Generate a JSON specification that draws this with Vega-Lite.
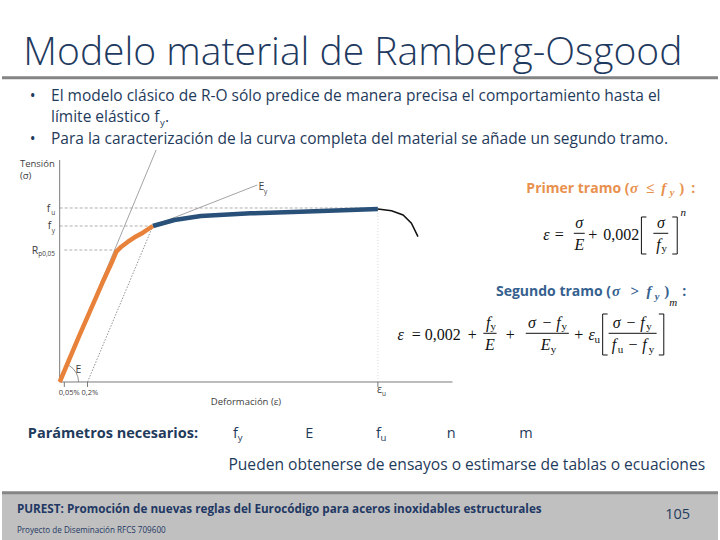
{
  "$schema": "https://vega.github.io/schema/vega-lite/v6.json",
  "width": 720,
  "height": 540,
  "autosize": {"type": "fit", "contains": "padding"},
  "padding": 0,
  "background": "white",
  "config": {"view": {"stroke": null}},
  "datasets": {
    "footer_bg": [{"x": -0.18125, "x2": 2.06875, "y": -0.908046, "y2": -0.6437}],
    "bands": [
      {"x": -0.18125, "x2": 2.06875, "y": 1.7483, "y2": 1.7483},
      {"x": -0.18125, "x2": 2.06875, "y": -0.6368, "y2": -0.6368}
    ],
    "axes": [
      {"x": 0, "x2": 0, "y": 0, "y2": 1.2759},
      {"x": 0, "x2": 1.2344, "y": 0, "y2": 0},
      {"x": 0.0146, "x2": 0.0146, "y": 0, "y2": -0.0287},
      {"x": 0.0875, "x2": 0.0875, "y": 0, "y2": -0.0287},
      {"x": 1.0, "x2": 1.0, "y": 0, "y2": -0.0287}
    ],
    "guides": [
      {"x": 0, "x2": 1.0, "y": 1.0, "y2": 1.0},
      {"x": 0, "x2": 0.2928, "y": 0.8966, "y2": 0.8966},
      {"x": 0.0146, "x2": 0.1781, "y": 0.7586, "y2": 0.7586}
    ],
    "eu_line": [{"x": 1.0, "x2": 1.0, "y": 0, "y2": 0.99}],
    "tangents": [
      {"x": 0, "x2": 0.3031, "y": 0, "y2": 1.3333},
      {"x": 0.2928, "x2": 0.6209, "y": 0.8966, "y2": 1.1322}
    ],
    "offset02": [{"x": 0.0875, "x2": 0.2928, "y": 0, "y2": 0.8966}],
    "arc": [
      {"x": 0.0594, "y": 0},
      {"x": 0.0573, "y": 0.0283},
      {"x": 0.0514, "y": 0.0546},
      {"x": 0.0420, "y": 0.0772},
      {"x": 0.0297, "y": 0.0945},
      {"x": 0.0232, "y": 0.1005}
    ],
    "tramo1": [
      {"x": 0, "y": 0},
      {"x": 0.0603, "y": 0.2603},
      {"x": 0.1334, "y": 0.5672},
      {"x": 0.1625, "y": 0.6822},
      {"x": 0.1781, "y": 0.7489},
      {"x": 0.1938, "y": 0.7776},
      {"x": 0.2147, "y": 0.8063},
      {"x": 0.2353, "y": 0.8316},
      {"x": 0.2616, "y": 0.8580},
      {"x": 0.2928, "y": 0.8966}
    ],
    "tramo2": [
      {"x": 0.2928, "y": 0.8966},
      {"x": 0.3603, "y": 0.9310},
      {"x": 0.4438, "y": 0.9540},
      {"x": 0.6, "y": 0.9695},
      {"x": 0.7563, "y": 0.9787},
      {"x": 0.9125, "y": 0.9885},
      {"x": 1.0, "y": 0.9943}
    ],
    "rotura": [
      {"x": 1.0, "y": 0.9943},
      {"x": 1.0428, "y": 0.9845},
      {"x": 1.0791, "y": 0.9598},
      {"x": 1.1053, "y": 0.9121},
      {"x": 1.1259, "y": 0.8351}
    ],
    "math_rules": [
      {"x": 1.6156, "x2": 1.65, "y": 0.8546, "y2": 0.8546},
      {"x": 1.8656, "x2": 1.9125, "y": 0.8546, "y2": 0.8546},
      {"x": 1.8281, "x2": 1.8281, "y": 0.9483, "y2": 0.7356},
      {"x": 1.8281, "x2": 1.8438, "y": 0.9483, "y2": 0.9483},
      {"x": 1.8281, "x2": 1.8438, "y": 0.7356, "y2": 0.7356},
      {"x": 1.9406, "x2": 1.9406, "y": 0.9483, "y2": 0.7356},
      {"x": 1.925, "x2": 1.9406, "y": 0.9483, "y2": 0.9483},
      {"x": 1.925, "x2": 1.9406, "y": 0.7356, "y2": 0.7356},
      {"x": 1.3313, "x2": 1.3728, "y": 0.2799, "y2": 0.2799},
      {"x": 1.4647, "x2": 1.6, "y": 0.2799, "y2": 0.2799},
      {"x": 1.725, "x2": 1.8759, "y": 0.2799, "y2": 0.2799},
      {"x": 1.7063, "x2": 1.7063, "y": 0.3908, "y2": 0.1552},
      {"x": 1.7063, "x2": 1.7219, "y": 0.3908, "y2": 0.3908},
      {"x": 1.7063, "x2": 1.7219, "y": 0.1552, "y2": 0.1552},
      {"x": 1.8984, "x2": 1.8984, "y": 0.3908, "y2": 0.1552},
      {"x": 1.8828, "x2": 1.8984, "y": 0.3908, "y2": 0.3908},
      {"x": 1.8828, "x2": 1.8984, "y": 0.1552, "y2": 0.1552}
    ],
    "t_title": [{"x": -0.1141, "y": 1.8218, "t": "Modelo material de Ramberg-Osgood"}],
    "t_body": [
      {"x": -0.09375, "y": 1.6149, "t": "•"},
      {"x": -0.0272, "y": 1.6149, "t": "El modelo clásico de R-O sólo predice de manera precisa el comportamiento hasta el"},
      {"x": -0.0272, "y": 1.4925, "t": "límite elástico f"},
      {"x": 0.3313, "y": 1.4925, "t": "."},
      {"x": -0.09375, "y": 1.3678, "t": "•"},
      {"x": -0.0272, "y": 1.3678, "t": "Para la caracterización de la curva completa del material se añade un segundo tramo."}
    ],
    "t_body_sub": [
      {"x": 0.3156, "y": 1.4741, "t": "y"},
      {"x": 0.5594, "y": -0.3391, "t": "y"},
      {"x": 1.0078, "y": -0.3391, "t": "u"}
    ],
    "t_params": [
      {"x": 0.5447, "y": -0.3201, "t": "f"},
      {"x": 0.7719, "y": -0.3201, "t": "E"},
      {"x": 0.9938, "y": -0.3201, "t": "f"},
      {"x": 1.2166, "y": -0.3201, "t": "n"},
      {"x": 1.4438, "y": -0.3201, "t": "m"},
      {"x": 1.9031, "y": -0.7874, "t": "105"}
    ],
    "t_pueden": [{"x": 0.5303, "y": -0.5057, "t": "Pueden obtenerse de ensayos o estimarse de tablas o ecuaciones"}],
    "t_bold": [{"x": -0.1, "y": -0.3201, "t": "Parámetros necesarios:"}],
    "t_footer1": [{"x": -0.1344, "y": -0.7529, "t": "PUREST: Promoción de nuevas reglas del Eurocódigo para aceros inoxidables estructurales"}],
    "t_footer2": [{"x": -0.1344, "y": -0.8678, "t": "Proyecto de Diseminación RFCS 709600"}],
    "t_chart": [
      {"x": -0.125, "y": 1.2356, "t": "Tensión"},
      {"x": -0.125, "y": 1.1649, "t": "(σ)"},
      {"x": 0.475, "y": -0.1322, "t": "Deformación (ε)"}
    ],
    "t_chart_sym": [
      {"x": -0.0406, "y": 0.9787, "t": "f"},
      {"x": -0.0375, "y": 0.8776, "t": "f"},
      {"x": -0.0875, "y": 0.7356, "t": "R"},
      {"x": 0.625, "y": 1.1034, "t": "E"},
      {"x": 0.05, "y": 0.0534, "t": "E"},
      {"x": 0.9969, "y": -0.0615, "t": "ε"}
    ],
    "t_chart_sub": [
      {"x": -0.0266, "y": 0.9598, "t": "u"},
      {"x": -0.025, "y": 0.8563, "t": "y"},
      {"x": -0.0675, "y": 0.7213, "t": "p0,05"},
      {"x": 0.6422, "y": 1.0805, "t": "y"},
      {"x": 1.0125, "y": -0.0805, "t": "u"}
    ],
    "t_ticks": [
      {"x": -0.0031, "y": -0.0747, "t": "0,05%"},
      {"x": 0.0688, "y": -0.0747, "t": "0,2%"}
    ],
    "t_head_sans": [
      {"x": 1.7906, "y": 1.0862, "t": "Primer tramo (", "g": "primer"},
      {"x": 1.9969, "y": 1.0862, "t": ":", "g": "primer"},
      {"x": 1.7328, "y": 0.4943, "t": "Segundo tramo (", "g": "segundo"},
      {"x": 1.9688, "y": 0.4943, "t": ":", "g": "segundo"}
    ],
    "t_head_it": [
      {"x": 1.7922, "y": 1.0862, "t": "σ", "g": "primer"},
      {"x": 1.8906, "y": 1.0862, "t": "f", "g": "primer"},
      {"x": 1.7353, "y": 0.4943, "t": "σ", "g": "segundo"},
      {"x": 1.8438, "y": 0.4943, "t": "f", "g": "segundo"}
    ],
    "t_head_rm": [
      {"x": 1.8422, "y": 1.0862, "t": "≤", "g": "primer"},
      {"x": 1.9469, "y": 1.0862, "t": ")", "g": "primer"},
      {"x": 1.7938, "y": 0.4943, "t": ">", "g": "segundo"},
      {"x": 1.9, "y": 0.4943, "t": ")", "g": "segundo"}
    ],
    "t_head_sub": [
      {"x": 1.9172, "y": 1.0661, "t": "y", "g": "primer"},
      {"x": 1.8703, "y": 0.4741, "t": "y", "g": "segundo"}
    ],
    "t_math_it": [
      {"x": 1.5297, "y": 0.8161, "t": "ε"},
      {"x": 1.6322, "y": 0.8851, "t": "σ"},
      {"x": 1.6328, "y": 0.7586, "t": "E"},
      {"x": 1.8897, "y": 0.8851, "t": "σ"},
      {"x": 1.8813, "y": 0.7586, "t": "f"},
      {"x": 1.0719, "y": 0.2414, "t": "ε"},
      {"x": 1.3469, "y": 0.3132, "t": "f"},
      {"x": 1.3516, "y": 0.1839, "t": "E"},
      {"x": 1.4844, "y": 0.3132, "t": "σ"},
      {"x": 1.5672, "y": 0.3132, "t": "f"},
      {"x": 1.5272, "y": 0.1839, "t": "E"},
      {"x": 1.6719, "y": 0.2414, "t": "ε"},
      {"x": 1.75, "y": 0.3132, "t": "σ"},
      {"x": 1.8313, "y": 0.3132, "t": "f"},
      {"x": 1.7422, "y": 0.1839, "t": "f"},
      {"x": 1.8375, "y": 0.1839, "t": "f"}
    ],
    "t_math_rm": [
      {"x": 1.5703, "y": 0.8161, "t": "="},
      {"x": 1.675, "y": 0.8161, "t": "+"},
      {"x": 1.7647, "y": 0.8161, "t": "0,002"},
      {"x": 1.1209, "y": 0.2414, "t": "="},
      {"x": 1.2041, "y": 0.2414, "t": "0,002"},
      {"x": 1.2969, "y": 0.2414, "t": "+"},
      {"x": 1.4156, "y": 0.2414, "t": "+"},
      {"x": 1.5313, "y": 0.3132, "t": "−"},
      {"x": 1.6313, "y": 0.2414, "t": "+"},
      {"x": 1.7953, "y": 0.3132, "t": "−"},
      {"x": 1.8016, "y": 0.1839, "t": "−"}
    ],
    "t_math_sub": [
      {"x": 1.9, "y": 0.7471, "t": "y"},
      {"x": 1.3625, "y": 0.2989, "t": "y"},
      {"x": 1.5859, "y": 0.2989, "t": "y"},
      {"x": 1.5516, "y": 0.1695, "t": "y"},
      {"x": 1.6891, "y": 0.2241, "t": "u"},
      {"x": 1.8516, "y": 0.2989, "t": "y"},
      {"x": 1.7625, "y": 0.1695, "t": "u"},
      {"x": 1.8594, "y": 0.1695, "t": "y"}
    ],
    "t_math_sup": [
      {"x": 1.9594, "y": 0.9540, "t": "n"},
      {"x": 1.9281, "y": 0.4368, "t": "m"}
    ]
  },
  "encoding": {
    "x": {"field": "x", "type": "quantitative", "scale": {"domain": [-0.18125, 2.06875], "nice": false, "zero": false}, "axis": null},
    "y": {"field": "y", "type": "quantitative", "scale": {"domain": [-0.908046, 2.195402], "nice": false, "zero": false}, "axis": null}
  },
  "layer": [
    {"data": {"name": "footer_bg"}, "mark": {"type": "rect", "color": "#c0c0c0"}, "encoding": {"x2": {"field": "x2"}, "y2": {"field": "y2"}}},
    {"data": {"name": "bands"}, "mark": {"type": "rule", "color": "#858585", "strokeWidth": 3}, "encoding": {"x2": {"field": "x2"}, "y2": {"field": "y2"}}},
    {"data": {"name": "eu_line"}, "mark": {"type": "rule", "color": "#d0d0d0", "strokeWidth": 0.8, "strokeDash": [1, 2]}, "encoding": {"x2": {"field": "x2"}, "y2": {"field": "y2"}}},
    {"data": {"name": "guides"}, "mark": {"type": "rule", "color": "#9a9a9a", "strokeWidth": 0.8, "strokeDash": [3, 2]}, "encoding": {"x2": {"field": "x2"}, "y2": {"field": "y2"}}},
    {"data": {"name": "tangents"}, "mark": {"type": "rule", "color": "#8c8c8c", "strokeWidth": 0.8}, "encoding": {"x2": {"field": "x2"}, "y2": {"field": "y2"}}},
    {"data": {"name": "offset02"}, "mark": {"type": "rule", "color": "#777777", "strokeWidth": 0.8, "strokeDash": [1.5, 1.5]}, "encoding": {"x2": {"field": "x2"}, "y2": {"field": "y2"}}},
    {"data": {"name": "axes"}, "mark": {"type": "rule", "color": "#7a7a7a", "strokeWidth": 1}, "encoding": {"x2": {"field": "x2"}, "y2": {"field": "y2"}}},
    {"data": {"name": "arc"}, "mark": {"type": "line", "color": "#777777", "strokeWidth": 0.8}, "encoding": {}},
    {"data": {"name": "tramo2"}, "mark": {"type": "line", "color": "#285078", "strokeWidth": 4.5, "strokeJoin": "round"}, "encoding": {}},
    {"data": {"name": "tramo1"}, "mark": {"type": "line", "color": "#e8823a", "strokeWidth": 4.5, "strokeJoin": "round"}, "encoding": {}},
    {"data": {"name": "rotura"}, "mark": {"type": "line", "color": "#111111", "strokeWidth": 1.5}, "encoding": {}},
    {"data": {"name": "math_rules"}, "mark": {"type": "rule", "color": "#111111", "strokeWidth": 1}, "encoding": {"x2": {"field": "x2"}, "y2": {"field": "y2"}}},
    {"data": {"name": "t_title"}, "mark": {"type": "text", "align": "left", "baseline": "alphabetic", "font": "Open Sans", "fontWeight": 300, "fontSize": 39, "color": "#1f3a5f"}, "encoding": {"text": {"field": "t"}}},
    {"data": {"name": "t_body"}, "mark": {"type": "text", "align": "left", "baseline": "alphabetic", "font": "Open Sans", "fontSize": 15.5, "color": "#1f3b5c"}, "encoding": {"text": {"field": "t"}}},
    {"data": {"name": "t_body_sub"}, "mark": {"type": "text", "align": "left", "baseline": "alphabetic", "font": "Open Sans", "fontSize": 9.5, "color": "#1f3b5c"}, "encoding": {"text": {"field": "t"}}},
    {"data": {"name": "t_params"}, "mark": {"type": "text", "align": "left", "baseline": "alphabetic", "font": "Open Sans", "fontSize": 14.5, "color": "#1f3b5c"}, "encoding": {"text": {"field": "t"}}},
    {"data": {"name": "t_pueden"}, "mark": {"type": "text", "align": "left", "baseline": "alphabetic", "font": "Open Sans", "fontSize": 15.6, "color": "#1f3b5c"}, "encoding": {"text": {"field": "t"}}},
    {"data": {"name": "t_bold"}, "mark": {"type": "text", "align": "left", "baseline": "alphabetic", "font": "Open Sans", "fontWeight": "bold", "fontSize": 14.5, "color": "#1f3b5c"}, "encoding": {"text": {"field": "t"}}},
    {"data": {"name": "t_footer1"}, "mark": {"type": "text", "align": "left", "baseline": "alphabetic", "font": "Open Sans", "fontWeight": "bold", "fontSize": 11.7, "color": "#1f3864"}, "encoding": {"text": {"field": "t"}}},
    {"data": {"name": "t_footer2"}, "mark": {"type": "text", "align": "left", "baseline": "alphabetic", "font": "Open Sans", "fontSize": 8.1, "color": "#1f3864"}, "encoding": {"text": {"field": "t"}}},
    {"data": {"name": "t_chart"}, "mark": {"type": "text", "align": "left", "baseline": "alphabetic", "font": "Open Sans", "fontSize": 9.5, "color": "#404040"}, "encoding": {"text": {"field": "t"}}},
    {"data": {"name": "t_chart_sym"}, "mark": {"type": "text", "align": "left", "baseline": "alphabetic", "font": "Open Sans", "fontSize": 10.5, "color": "#404040"}, "encoding": {"text": {"field": "t"}}},
    {"data": {"name": "t_chart_sub"}, "mark": {"type": "text", "align": "left", "baseline": "alphabetic", "font": "Open Sans", "fontSize": 6.5, "color": "#404040"}, "encoding": {"text": {"field": "t"}}},
    {"data": {"name": "t_ticks"}, "mark": {"type": "text", "align": "left", "baseline": "alphabetic", "font": "Open Sans", "fontSize": 7.5, "color": "#404040"}, "encoding": {"text": {"field": "t"}}},
    {"data": {"name": "t_head_sans"}, "mark": {"type": "text", "align": "right", "baseline": "alphabetic", "font": "Open Sans", "fontWeight": "bold", "fontSize": 14}, "encoding": {"text": {"field": "t"}, "color": {"field": "g", "type": "nominal", "scale": {"domain": ["primer", "segundo"], "range": ["#e8914f", "#36618f"]}, "legend": null}}},
    {"data": {"name": "t_head_it"}, "mark": {"type": "text", "align": "left", "baseline": "alphabetic", "font": "Liberation Serif", "fontWeight": "bold", "fontStyle": "italic", "fontSize": 15}, "encoding": {"text": {"field": "t"}, "color": {"field": "g", "type": "nominal", "legend": null}}},
    {"data": {"name": "t_head_rm"}, "mark": {"type": "text", "align": "left", "baseline": "alphabetic", "font": "Liberation Serif", "fontWeight": "bold", "fontSize": 15}, "encoding": {"text": {"field": "t"}, "color": {"field": "g", "type": "nominal", "legend": null}}},
    {"data": {"name": "t_head_sub"}, "mark": {"type": "text", "align": "left", "baseline": "alphabetic", "font": "Liberation Serif", "fontWeight": "bold", "fontStyle": "italic", "fontSize": 10.5}, "encoding": {"text": {"field": "t"}, "color": {"field": "g", "type": "nominal", "legend": null}}},
    {"data": {"name": "t_math_it"}, "mark": {"type": "text", "align": "center", "baseline": "alphabetic", "font": "Liberation Serif", "fontStyle": "italic", "fontSize": 16, "color": "#111111"}, "encoding": {"text": {"field": "t"}}},
    {"data": {"name": "t_math_rm"}, "mark": {"type": "text", "align": "center", "baseline": "alphabetic", "font": "Liberation Serif", "fontSize": 16, "color": "#111111"}, "encoding": {"text": {"field": "t"}}},
    {"data": {"name": "t_math_sub"}, "mark": {"type": "text", "align": "center", "baseline": "alphabetic", "font": "Liberation Serif", "fontSize": 11, "color": "#111111"}, "encoding": {"text": {"field": "t"}}},
    {"data": {"name": "t_math_sup"}, "mark": {"type": "text", "align": "center", "baseline": "alphabetic", "font": "Liberation Serif", "fontStyle": "italic", "fontSize": 11, "color": "#111111"}, "encoding": {"text": {"field": "t"}}}
  ]
}
